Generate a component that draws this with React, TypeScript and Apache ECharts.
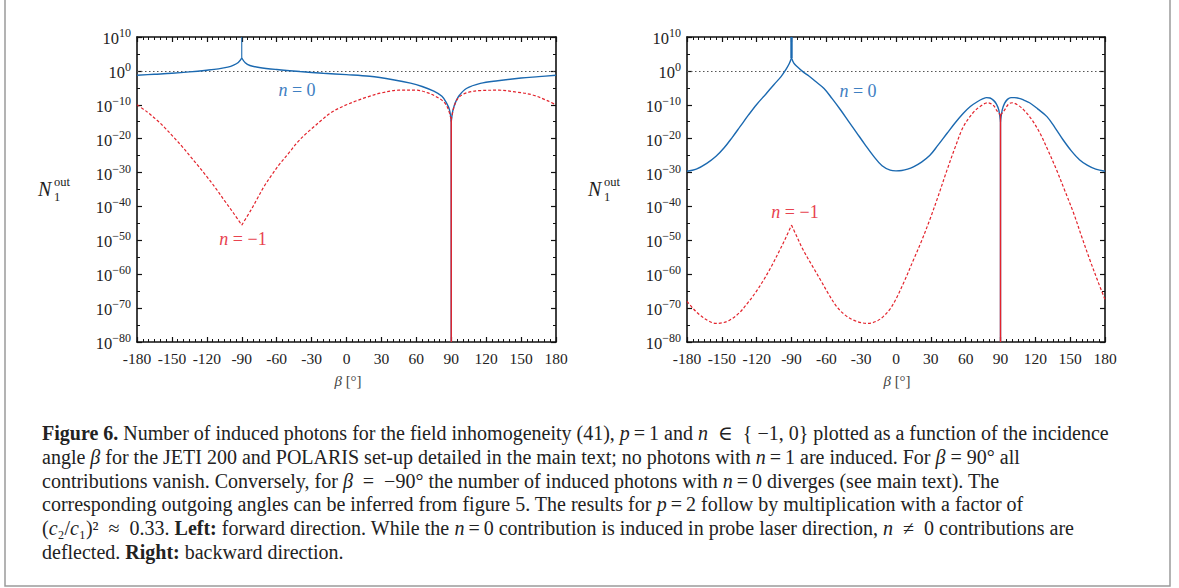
import React, { useEffect, useRef } from "react";
import * as echarts from "echarts";

// ---------- data (values are log10 of N_1^out) ----------
const BETA_MIN = -180;
const BETA_MAX = 180;
const BETA_STEP = 30;
const EXP_MIN = -80;
const EXP_MAX = 10;
const EXP_STEP = 10;
const UNITY = 0; // 10^0 reference line
const CUSPS = [-90, 90];

// Left panel: forward direction
const fwdN0: number[][] = [
  [-180, -1.3], [-165, -1.0], [-150, -0.7], [-135, -0.3], [-120, 0.2], [-110, 0.6], [-102, 1.1], [-97, 1.7], [-93, 2.5], [-90, 3.8],
  [-87, 2.4], [-83, 1.6], [-75, 1.0], [-60, 0.4], [-40, -0.2], [-20, -0.7], [0, -1.1], [20, -1.6],
  [40, -2.6], [55, -3.6], [65, -4.6], [75, -6.0], [82, -7.5], [86, -9.5], [88.5, -11.5], [90, -15],
  [91.5, -11.5], [94, -9], [97, -7.2], [103, -5.2], [115, -3.7], [130, -2.9], [150, -2.1], [165, -1.7], [180, -1.3],
];
const fwdNm1: number[][] = [
  [-180, -10], [-171, -12.2], [-163, -14.5], [-156, -16.8], [-149, -19.4], [-141, -22.4], [-134, -25.3], [-127, -28.2],
  [-120, -31.2], [-112, -34.8], [-105, -38.2], [-97, -42], [-90, -45.5],
  [-82, -41], [-76, -37.3], [-71, -34.2], [-64, -30.6], [-57, -27.3], [-49, -24], [-42, -21], [-35, -18.6], [-28, -16.5],
  [-21, -14.4], [-14, -12.5], [-7, -11.1], [0, -10], [8, -8.9], [17, -7.8],
  [30, -6.5], [45, -5.7], [60, -5.7], [70, -6.5], [78, -7.8], [84, -9.3], [87.5, -11.4], [90, -14.5],
  [92.5, -10.5], [96, -8], [103, -6.5], [115, -5.8], [131, -5.7], [145, -6.2], [160, -7.1], [172, -8.7], [180, -10],
];
const fwdN0Spike: number[][] = [[-90, 3.8], [-90, 10]];
const fwdN0Drop: number[][] = [[90, -15], [90, -80]];
const fwdNm1Drop: number[][] = [[90, -14.5], [90, -80]];

// Right panel: backward direction
const bwdN0: number[][] = [
  [-180, -29.6], [-172, -29.0], [-163, -27.3], [-155, -25.2], [-148, -22.7], [-141, -19.6], [-134, -16.3], [-127, -13],
  [-120, -9.9], [-112, -6.8], [-105, -4], [-99, -1.7], [-95, 0.3], [-92, 2.1], [-90, 3.8],
  [-88, 2.3], [-85, 1.2], [-80, -0.3], [-75, -1.5], [-70, -2.9], [-62, -5.2], [-55, -8.2], [-48, -11.4], [-41, -14.8],
  [-34, -18.2], [-27, -21.6], [-19, -25.3], [-12, -28.0], [-5, -29.3], [0, -29.5], [5, -29.4], [10, -29.0], [15, -28.3],
  [22, -26.9], [29, -25], [36, -22], [44, -18.4], [51, -15.3], [58, -12.5], [64, -10.5], [70, -9.1], [75, -8.2],
  [78, -7.9], [81, -8.0], [84, -8.7], [86.5, -9.8], [88.5, -11.5], [90, -15],
  [91.5, -11.5], [93.5, -9.6], [96, -8.4], [99, -7.9], [102, -7.9], [106, -8.1], [110, -8.6], [115, -9.4], [122, -11.2],
  [130, -13.5], [137, -16.8], [144, -20.4], [151, -23.6], [158, -26.2], [165, -27.9], [172, -29.0], [180, -29.6],
];
const bwdNm1: number[][] = [
  [-180, -68], [-174, -70.4], [-169, -72], [-162, -73.7], [-155, -74.5], [-149, -74.3], [-143, -73.5], [-135, -71.4],
  [-128, -68.6], [-121, -65.4], [-114, -61.7], [-107, -57.5], [-100, -52.8], [-95, -49.3], [-90, -45.5],
  [-85, -49.2], [-80, -52.8], [-72, -57.6], [-65, -61.7], [-58, -65.9], [-51, -69.6], [-44, -72], [-37, -73.5],
  [-30, -74.3], [-24, -74.5], [-17, -73.9], [-11, -72.5], [-5, -70.2], [0, -67.3], [7, -62.2], [15, -55.8],
  [22, -50.2], [29, -44], [36, -37.3], [44, -29.2], [51, -22.5], [58, -16.5], [66, -12.5], [72, -10.6], [79, -9.4],
  [84, -10.2], [87, -11.8], [90, -13],
  [93, -11.8], [97, -9.8], [100, -9.4], [105, -10.1], [110, -11.5], [117, -14.4], [124, -18.4], [131, -23.5], [138, -29],
  [145, -35], [153, -42], [160, -49], [167, -55.8], [174, -62.2], [180, -67.5],
];
const bwdN0Spike: number[][] = [[-90, 3.8], [-90, 10]];
const bwdN0Drop: number[][] = [[90, -15], [90, -80]];
const bwdNm1Drop: number[][] = [[90, -13], [90, -80]];

const CURVE_LABEL_N0 = "{i|n} = 0";
const CURVE_LABEL_NM1 = "{i|n} = \u22121";

const T = "\u2009"; // thin space (inline math)
const E = "\u2002"; // en space (display-like math spacing)
const CAPTION_LINES = [
  "{b|Figure 6.} Number of induced photons for the field inhomogeneity ({l|41}), {i|p}" + T + "=" + T + "1 and {i|n}" + E + "\u2208" + E + "{ \u22121, 0} plotted as a function of the incidence",
  "angle {i|\u03b2} for the JETI 200 and POLARIS set-up detailed in the main text; no photons with {i|n}" + T + "=" + T + "1 are induced. For {i|\u03b2} = 90\u00b0 all",
  "contributions vanish. Conversely, for {i|\u03b2}" + E + "=" + E + "\u221290\u00b0 the number of induced photons with {i|n}" + T + "=" + T + "0 diverges (see main text). The",
  "corresponding outgoing angles can be inferred from figure {l|5}. The results for {i|p}" + T + "=" + T + "2 follow by multiplication with a factor of",
  "({i|c}\u2082/{i|c}\u2081)\u00b2" + E + "\u2248" + E + "0.33. {b|Left:} forward direction. While the {i|n}" + T + "=" + T + "0 contribution is induced in probe laser direction, {i|n}" + E + "\u2260" + E + "0 contributions are",
  "deflected. {b|Right:} backward direction.",
];

// ---------- styles ----------
const SERIF = "'Liberation Serif', 'DejaVu Serif', serif";
const BLUE = "#1b69b0";
const RED = "#e3232c";
const BLUE_TXT = "#3f80c2";
const RED_TXT = "#e8434f";
const CAP_SIZE = 20;

function splitAt(points: number[][], cuts: number[]) {
  const segs: number[][][] = [];
  let cur: number[][] = [];
  for (const p of points) {
    cur.push(p);
    if (cuts.includes(p[0]) && cur.length > 1) {
      segs.push(cur);
      cur = [p];
    }
  }
  if (cur.length > 1) segs.push(cur);
  return segs;
}

function expLabel(v: number) {
  const e = Math.round(v);
  const s = e < 0 ? "\u2212" + Math.abs(e) : String(e);
  return "{b|10}{s|" + s + "}";
}

function axesFor(gridIndex: number) {
  const tickCommon = { inside: true, length: 5, lineStyle: { color: "#111", width: 1.2 } };
  const minorX = { show: true, splitNumber: 6, length: 3, lineStyle: { color: "#111", width: 1 } };
  const minorY = { show: true, splitNumber: 2, length: 3, lineStyle: { color: "#111", width: 1 } };
  const axisLine = { show: true, onZero: false, lineStyle: { color: "#111", width: 1.6 } };
  const x = (pos: string, labels: boolean) => ({
    type: "value",
    gridIndex,
    position: pos,
    min: BETA_MIN,
    max: BETA_MAX,
    interval: BETA_STEP,
    axisLine,
    axisTick: tickCommon,
    minorTick: minorX,
    splitLine: { show: false },
    axisLabel: labels
      ? { show: true, margin: 8, fontFamily: SERIF, fontSize: 15.5, color: "#222", formatter: (v: number) => String(v) }
      : { show: false },
  });
  const y = (pos: string, labels: boolean) => ({
    type: "value",
    gridIndex,
    position: pos,
    min: EXP_MIN,
    max: EXP_MAX,
    interval: EXP_STEP,
    axisLine,
    axisTick: tickCommon,
    minorTick: minorY,
    splitLine: { show: false },
    axisLabel: labels
      ? {
          show: true,
          margin: 6,
          formatter: expLabel,
          rich: {
            b: { fontFamily: SERIF, fontSize: 16.5, color: "#222", verticalAlign: "bottom", lineHeight: 20 },
            s: { fontFamily: SERIF, fontSize: 12, color: "#222", verticalAlign: "bottom", lineHeight: 20, padding: [0, 0, 8, 0] },
          },
        }
      : { show: false },
  });
  return { xs: [x("bottom", true), x("top", false)], ys: [y("left", true), y("right", false)] };
}

function seriesFor(
  panel: number,
  n0: number[][],
  nm1: number[][],
  spike: number[][],
  spikeWidth: number,
  dropN0: number[][],
  dropNm1: number[][]
) {
  const xAxisIndex = panel * 2;
  const yAxisIndex = panel * 2;
  const base = { type: "line", xAxisIndex, yAxisIndex, showSymbol: false, symbol: "none", silent: true, clip: true };
  const out: any[] = [];
  splitAt(n0, CUSPS).forEach((seg, i) => {
    out.push({
      ...base,
      smooth: 0.35,
      data: seg,
      z: 3,
      lineStyle: { color: BLUE, width: 1.4 },
      markLine:
        i === 0
          ? {
              silent: true,
              symbol: "none",
              label: { show: false },
              lineStyle: { color: "#555", width: 1.2, type: [1.5, 2.5] },
              data: [{ yAxis: UNITY }],
              z: 1,
            }
          : undefined,
    });
  });
  out.push({ ...base, data: spike, z: 3, lineStyle: { color: BLUE, width: spikeWidth } });
  out.push({ ...base, data: dropN0, z: 3, lineStyle: { color: BLUE, width: 1.4 } });
  splitAt(nm1, CUSPS).forEach((seg) => {
    out.push({ ...base, smooth: 0.35, data: seg, z: 4, lineStyle: { color: RED, width: 1.2, type: [3, 2] } });
  });
  out.push({ ...base, data: dropNm1, z: 4, lineStyle: { color: RED, width: 1.4 } });
  return out;
}

function textEl(x: number, y: number, text: string, opts: any = {}) {
  return {
    type: "text",
    x,
    y,
    silent: true,
    style: {
      text,
      fontFamily: SERIF,
      fontSize: 17,
      fill: "#222",
      align: "left",
      verticalAlign: "middle",
      ...opts,
    },
  };
}

export default function App() {
  const ref = useRef<HTMLDivElement>(null);
  useEffect(() => {
    document.body.style.margin = "0";
    if (!ref.current) return;
    const chart = echarts.init(ref.current, undefined, { renderer: "svg" });
    const a0 = axesFor(0);
    const a1 = axesFor(1);
    const curveRich = (color: string) => ({
      i: { fontFamily: SERIF, fontStyle: "italic", fontSize: 18, color },
    });
    const captionRich = {
      b: { fontFamily: SERIF, fontWeight: "bold", fontSize: CAP_SIZE, color: "#222" },
      i: { fontFamily: SERIF, fontStyle: "italic", fontSize: CAP_SIZE, color: "#222" },
      l: { fontFamily: SERIF, fontSize: CAP_SIZE, color: "#2a7fc0" },
    };
    const betaRich = { i: { fontStyle: "italic", fontFamily: SERIF, fontSize: 15, color: "#444" } };
    const nLabel = (x: number) => [
      textEl(x, 189, "N", { fontStyle: "italic", fontSize: 20 }),
      textEl(x + 16, 182, "out", { fontSize: 12.5 }),
      textEl(x + 16, 197, "1", { fontSize: 12.5 }),
    ];
    const graphics: any[] = [
      {
        type: "rect",
        silent: true,
        shape: { x: 5, y: -2, width: 1165, height: 588 },
        style: { fill: "none", stroke: "#9a9a9a", lineWidth: 1.5 },
      },
      ...nLabel(38),
      ...nLabel(588),
      textEl(348, 381, "{i|\u03b2} [\u00b0]", { align: "center", fontSize: 15, fill: "#444", rich: betaRich }),
      textEl(897, 381, "{i|\u03b2} [\u00b0]", { align: "center", fontSize: 15, fill: "#444", rich: betaRich }),
      textEl(297, 90, CURVE_LABEL_N0, { align: "center", fontSize: 18, fill: BLUE_TXT, rich: curveRich(BLUE_TXT) }),
      textEl(243, 239, CURVE_LABEL_NM1, { align: "center", fontSize: 18, fill: RED_TXT, rich: curveRich(RED_TXT) }),
      textEl(858, 91, CURVE_LABEL_N0, { align: "center", fontSize: 18, fill: BLUE_TXT, rich: curveRich(BLUE_TXT) }),
      textEl(795, 212, CURVE_LABEL_NM1, { align: "center", fontSize: 18, fill: RED_TXT, rich: curveRich(RED_TXT) }),
      ...CAPTION_LINES.map((line, i) =>
        textEl(42, 433 + i * 23.8, line, { fontSize: CAP_SIZE, rich: captionRich })
      ),
    ];
    chart.setOption({
      animation: false,
      backgroundColor: "#ffffff",
      grid: [
        { left: 137, top: 37, width: 419, height: 305, containLabel: false },
        { left: 687, top: 37, width: 418, height: 305, containLabel: false },
      ],
      xAxis: [...a0.xs, ...a1.xs],
      yAxis: [...a0.ys, ...a1.ys],
      series: [
        ...seriesFor(0, fwdN0, fwdNm1, fwdN0Spike, 1.1, fwdN0Drop, fwdNm1Drop),
        ...seriesFor(1, bwdN0, bwdNm1, bwdN0Spike, 2.4, bwdN0Drop, bwdNm1Drop),
      ],
      graphic: graphics,
    });
    return () => chart.dispose();
  }, []);
  return <div ref={ref} style={{ width: 1179, height: 588 }} />;
}
